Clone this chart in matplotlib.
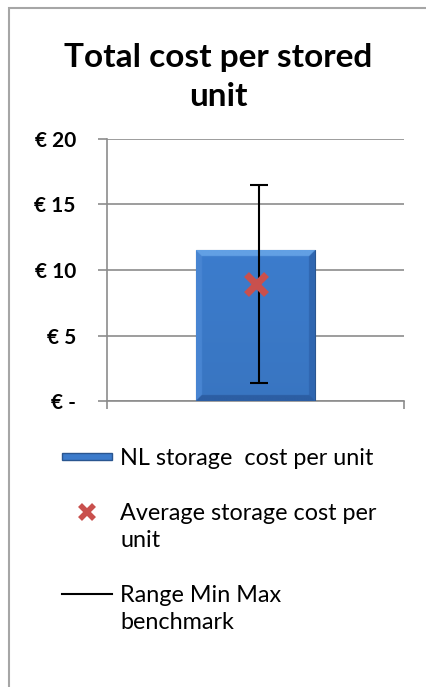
import matplotlib
matplotlib.use("Agg")
import matplotlib.pyplot as plt
import numpy as np
from matplotlib.patches import Rectangle
from matplotlib.lines import Line2D
from matplotlib.legend_handler import HandlerPatch, HandlerLine2D

# data
categories = ["NL"]
nl_cost = [11.5]
avg_cost = [8.9]
range_min = [1.35]
range_max = [16.5]
yticks = [0, 5, 10, 15, 20]
ytick_labels = ["€ -", "€ 5", "€ 10", "€ 15", "€ 20"]
legend_labels = ["NL storage  cost per unit",
                 "Average storage cost per\nunit",
                 "Range Min Max\nbenchmark"]

plt.rcParams['font.family'] = ['Lato', 'DejaVu Sans']

fig = plt.figure(figsize=(4.26, 6.87), dpi=100)
fig.patch.set_facecolor("white")
# outer chart frame (only left/top visible in the crop)
fig.add_artist(Rectangle((9/426, -0.1), 1.2, 1 - 8/687 + 0.1, transform=fig.transFigure,
                         fill=False, edgecolor="#a6a6a6", lw=1.5))

ax = fig.add_axes([107/426, 1 - 401/687, 297/426, 262/687])
x = np.arange(len(categories))
ax.set_xlim(-0.5, 0.5)
ax.set_ylim(0, 20)

bars = ax.bar(x, nl_cost, width=0.4, color="#3c7bcb", edgecolor="#2a5690", lw=0.8, zorder=3)


def hexrgb(h):
    return np.array([int(h[i:i + 2], 16) for i in (1, 3, 5)]) / 255.0


# bevelled look of the Excel bar
for b in bars:
    x0, y0, w, h = b.get_x(), b.get_y(), b.get_width(), b.get_height()
    (px0, py0), (px1, py1) = ax.transData.transform([(x0, y0), (x0 + w, y0 + h)])
    W, H = px1 - px0, py1 - py0
    nu, nv = int(W * 2), int(H * 2)
    u = (np.arange(nu) + 0.5) / nu
    v = (np.arange(nv) + 0.5) / nv
    U, V = np.meshgrid(u, v)
    dl, dr, db, dt = U * W, (1 - U) * W, V * H, (1 - V) * H
    img = np.empty((nv, nu, 3))
    face = hexrgb("#3b7ac9")
    img[:] = face * (0.96 + 0.06 * V)[..., None]
    bev = 6.0
    d = np.stack([dl, dr, db, dt])
    near = d.argmin(axis=0)
    inb = d.min(axis=0) < bev
    cols = [hexrgb("#4885d2"), hexrgb("#2f66b0"), hexrgb("#2c5ea3"), hexrgb("#62a0e4")]
    for k in range(4):
        m = inb & (near == k)
        img[m] = cols[k]
    im = ax.imshow(img, extent=[x0, x0 + w, y0, y0 + h], aspect="auto", zorder=3.5,
                   origin="lower", interpolation="bilinear")
    im.set_clip_path(b)

err_lo = np.array(avg_cost) - np.array(range_min)
err_hi = np.array(range_max) - np.array(avg_cost)
ax.errorbar(x + 0.012, avg_cost, yerr=[err_lo, err_hi], fmt="none", ecolor="black",
            elinewidth=1.5, capsize=6.5, capthick=1.5, zorder=4)
ax.plot(x, avg_cost, linestyle="none", marker="x", markersize=14, mew=5,
        color="#c9504d", zorder=5)

ax.set_yticks(yticks)
ax.set_yticklabels(ytick_labels)
ax.set_xticks([-0.5, 0.5])
ax.set_xticklabels([])
ax.tick_params(axis="y", length=6.5, width=1.2, color="#8c8c8c", pad=16,
               labelsize=15)
ax.tick_params(axis="x", length=6, width=1.2, color="#8c8c8c")
for t in ax.get_yticklabels():
    t.set_fontweight("bold")
ax.grid(axis="y", color="#8c8c8c", lw=1.2, zorder=0)
ax.set_axisbelow(True)
for s in ["top", "right"]:
    ax.spines[s].set_visible(False)
for s in ["left", "bottom"]:
    ax.spines[s].set_color("#8c8c8c")
    ax.spines[s].set_linewidth(1.2)

fig.text(0.513, 1 - 77/687, "Total cost per stored\nunit", ha="center", va="center",
         fontsize=24, fontweight="bold", linespacing=1.45)

# legend
bar_key = Rectangle((0, 0), 1, 1, facecolor="#3c7bcb", edgecolor="#2a5690")
avg_key = Line2D([], [], linestyle="none", marker="x", markersize=10, mew=4, color="#c9504d")
rng_key = Line2D([], [], color="black", lw=1.5)


def thin_bar(legend, orig_handle, xdescent, ydescent, width, height, fontsize):
    return Rectangle((-xdescent, -ydescent + height * 0.3), width, height * 0.42)


class FirstLineHandler(HandlerLine2D):
    # put the key level with the first line of a two-line label
    def create_artists(self, legend, orig_handle, xdescent, ydescent, width, height,
                       fontsize, trans):
        arts = super().create_artists(legend, orig_handle, xdescent, ydescent, width,
                                      height, fontsize, trans)
        for a in arts:
            a.set_ydata(np.asarray(a.get_ydata()) + 0.66 * fontsize)
        return arts


leg = fig.legend([bar_key, avg_key, rng_key], legend_labels, loc="upper left",
                 bbox_to_anchor=(62/426, 1 - 448/687), frameon=False, fontsize=16.8,
                 handlelength=2.15, handletextpad=0.35, borderpad=0, borderaxespad=0,
                 labelspacing=1.45,
                 handler_map={Rectangle: HandlerPatch(patch_func=thin_bar),
                              avg_key: FirstLineHandler(),
                              rng_key: FirstLineHandler()})
for t in leg.get_texts():
    t.set_linespacing(1.35)

fig.savefig("out.png", dpi=100, facecolor="white")
